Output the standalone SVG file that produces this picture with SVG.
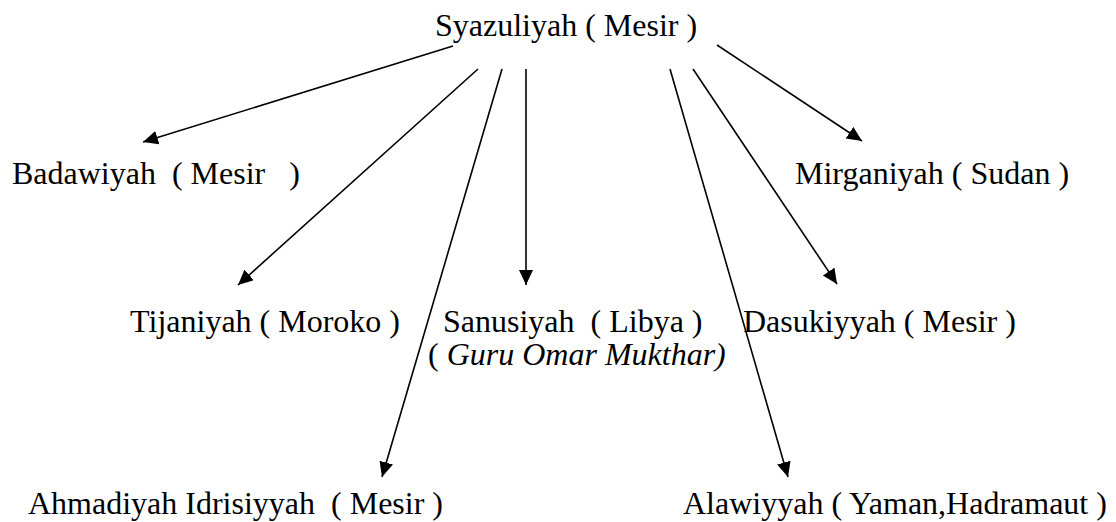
<svg xmlns="http://www.w3.org/2000/svg" width="1116" height="522" viewBox="0 0 1116 522">
<defs>
<style>
text{font-size:32px;fill:#000;white-space:pre}
.it{font-style:italic}
.c line{stroke:#000;stroke-width:1.6;fill:none;marker-end:url(#ah)}
</style>
<marker id="ah" markerUnits="userSpaceOnUse" markerWidth="16" markerHeight="15" refX="15" refY="7" orient="auto">
<path d="M0,0 L15,7 L0,14 z" fill="#000"/>
</marker>
</defs>
<rect width="1116" height="522" fill="#fff"/>
<g id="connectors" class="c">
<line x1="453" y1="46" x2="143" y2="142"/>
<line x1="478" y1="69" x2="238" y2="285"/>
<line x1="502" y1="69" x2="382" y2="477"/>
<line x1="526" y1="69" x2="526" y2="285"/>
<line x1="670" y1="69" x2="788" y2="477"/>
<line x1="693" y1="69" x2="837" y2="284"/>
<line x1="717" y1="45" x2="862" y2="141"/>
</g>
<g font-family="'Liberation Serif', 'Times New Roman', Times, serif">
<g id="n-syazuliyah"><text x="435" y="36">Syazuliyah ( Mesir )</text></g>
<g id="n-badawiyah"><text x="12" y="184">Badawiyah  ( Mesir   )</text></g>
<g id="n-mirganiyah"><text x="795" y="184">Mirganiyah ( Sudan )</text></g>
<g id="n-tijaniyah"><text x="400" y="332" text-anchor="end">Tijaniyah ( Moroko )</text></g>
<g id="n-sanusiyah"><text x="443" y="332">Sanusiyah  ( Libya )</text><text x="428" y="365">( <tspan class="it">Guru Omar Mukthar)</tspan></text></g>
<g id="n-dasukiyyah"><text x="743" y="332">Dasukiyyah ( Mesir )</text></g>
<g id="n-ahmadiyah"><text x="28" y="514">Ahmadiyah Idrisiyyah  ( Mesir )</text></g>
<g id="n-alawiyyah"><text x="683" y="514">Alawiyyah ( Yaman,Hadramaut )</text></g>
</g>
</svg>
